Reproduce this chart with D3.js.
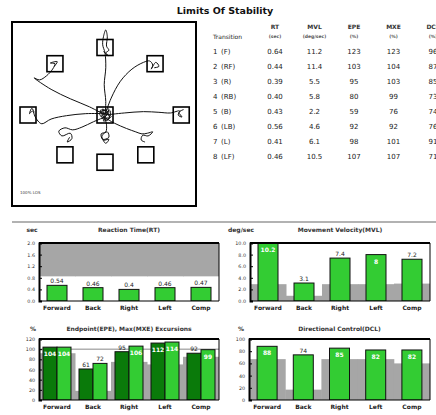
<!DOCTYPE html>
<html><head><meta charset="utf-8">
<script src="https://cdn.jsdelivr.net/npm/d3@7/dist/d3.min.js"></script>
<style>body{margin:0;background:#fff}svg{display:block}text{font-family:"DejaVu Sans",sans-serif}</style>
</head><body><svg id="c" width="436" height="415"></svg>
<script>
// ---------- data ----------
const categories = ["Forward","Back","Right","Left","Comp"];
const rtValues = [0.54,0.46,0.4,0.46,0.47];
const rtNorm = [0.85,0.85,0.85,0.85,0.85];
const rtTicks = [0,0.4,0.8,1.2,1.6,2.0];
const mvlValues = [10.2,3.1,7.4,8,7.2];
const mvlNorm = [2.9,0.9,2.9,2.9,3.0];
const mvlTicks = [0,2,4,6,8,10];
const epeValues = [104,61,95,112,92];
const mxeValues = [104,72,106,114,99];
const epeNorm = [92,18,75,70,85];
const epeTicks = [0,20,40,60,80,100,120];
const dclValues = [88,74,85,82,82];
const dclNorm = [67,17,67,67,60];
const dclTicks = [0,20,40,60,80,100];

const transitions = ["(F)","(RF)","(R)","(RB)","(B)","(LB)","(L)","(LF)"];
const tRT  = [0.64,0.44,0.39,0.40,0.43,0.56,0.41,0.46];
const tMVL = [11.2,11.4,5.5,5.8,2.2,4.6,6.1,10.5];
const tEPE = [123,103,95,80,59,92,98,107];
const tMXE = [123,104,103,99,76,92,101,107];
const tDCL = [96,87,85,73,74,76,91,71];
const tableHeads = [["RT","(sec)"],["MVL","(deg/sec)"],["EPE","(%)"],["MXE","(%)"],["DCL","(%)"]];

// targets in %LOS coordinates
const targetNames = ["C","F","RF","R","RB","B","LB","L","LF"];
const targetX = [0,0,65,99,53,0,-52,-100,-65];
const targetY = [0,100,76,0,-59,-70,-59,0,76];
// traces (%LOS)
const traceF  = [[0,0],[1,20],[-1,45],[1,70],[0,92],[-3,104],[-2,116],[1,126],[3,116],[2,102],[5,96],[1,92],[4,88],[-2,94]];
const traceRF = [[0,0],[8,25],[20,50],[35,68],[50,78],[58,80],[62,74],[60,68],[66,78],[70,72],[64,70]];
const traceR  = [[0,0],[25,3],[50,5],[70,4],[85,3],[97,6],[95,0],[100,-3],[96,4],[102,8]];
const traceRB = [[0,-4],[12,-12],[28,-20],[40,-25],[48,-28],[55,-27],[62,-25],[56,-31],[49,-30],[47,-37],[52,-40]];
const traceB  = [[0,-5],[2,-15],[1,-25],[-5,-28],[-3,-36],[5,-33],[3,-25],[-4,-31],[1,-42],[5,-36],[-2,-38]];
const traceLB = [[0,-3],[-15,-10],[-30,-18],[-42,-22],[-52,-19],[-60,-24],[-56,-31],[-45,-27],[-43,-35],[-49,-40],[-46,-33]];
const traceL  = [[0,2],[-25,2],[-50,-1],[-70,-6],[-82,-13],[-87,-9],[-91,-2],[-94,6],[-98,2],[-95,10],[-92,4]];
const traceLF = [[0,0],[-20,12],[-45,24],[-70,38],[-92,55],[-85,52],[-76,58],[-68,68],[-65,76],[-71,77],[-62,79],[-66,72]];
const traceC  = [[-4,-6],[5,4],[-6,7],[3,-8],[7,6],[-5,-2],[6,-4],[-3,9],[0,-7],[-7,2],[5,9],[-2,-9],[8,-2],[-8,5]];

// ---------- drawing ----------
const svg = d3.select("#c");

// Stability plot
svg.append("rect").attr("x",12).attr("y",22).attr("width",184).attr("height",184)
  .attr("fill","#fff").attr("stroke","#000").attr("stroke-width",2);
const sx = d3.scaleLinear().domain([-100,100]).range([28,182]);
const sy = d3.scaleLinear().domain([-100,100]).range([182.5,47.5]);
const line = d3.line().x(d=>sx(d[0])).y(d=>sy(d[1])).curve(d3.curveCatmullRom.alpha(0.5));
[traceF,traceRF,traceR,traceRB,traceB,traceLB,traceL,traceLF,traceC].forEach(t=>{
  svg.append("path").attr("d",line(t)).attr("fill","none").attr("stroke","#111").attr("stroke-width",1);
});
svg.selectAll("rect.tg").data(targetNames).join("rect").attr("class","tg")
  .attr("x",(d,i)=>sx(targetX[i])-8).attr("y",(d,i)=>sy(targetY[i])-8)
  .attr("width",16).attr("height",16).attr("fill","none").attr("stroke","#000").attr("stroke-width",1.6);
svg.append("text").attr("x",20).attr("y",194).attr("font-size",4).attr("fill","#444").text("100% LOS");

// Title + table
svg.append("text").attr("x",225).attr("y",14).attr("text-anchor","middle")
  .attr("font-family","Liberation Sans").attr("font-weight","bold").attr("font-size",9.5).attr("fill","#111")
  .text("Limits Of Stability");
const colX = d3.scalePoint().domain(d3.range(5)).range([275,433]);
const rowY = d3.scalePoint().domain(d3.range(8)).range([53.5,158.5]);
svg.append("text").attr("x",213).attr("y",39).attr("font-size",6).attr("fill","#222").text("Transition");
tableHeads.forEach((h,j)=>{
  svg.append("text").attr("x",colX(j)).attr("y",29).attr("text-anchor","middle").attr("font-size",6).attr("font-weight","bold").attr("fill","#333").text(h[0]);
  svg.append("text").attr("x",colX(j)).attr("y",38).attr("text-anchor","middle").attr("font-size",4.5).attr("font-weight","bold").attr("fill","#555").text(h[1]);
});
const tCols = [tRT.map(v=>v.toFixed(2)), tMVL.map(v=>v.toFixed(1)), tEPE.map(String), tMXE.map(String), tDCL.map(String)];
transitions.forEach((t,i)=>{
  svg.append("text").attr("x",213).attr("y",rowY(i)).attr("font-size",7).attr("fill","#222").text(i+1);
  svg.append("text").attr("x",221).attr("y",rowY(i)).attr("font-size",7).attr("fill","#222").text(t);
  tCols.forEach((c,j)=>{
    svg.append("text").attr("x",colX(j)).attr("y",rowY(i)).attr("text-anchor","middle").attr("font-size",7).attr("fill","#222").text(c[i]);
  });
});

// separator
svg.append("line").attr("x1",12).attr("x2",436).attr("y1",222).attr("y2",222).attr("stroke","#999").attr("stroke-width",1.5);

// bar panels
function panel(o){
  const g = svg.append("g");
  const x = d3.scaleBand().domain(categories).range([o.x0,o.x1]);
  const y = d3.scaleLinear().domain([0,o.max]).range([o.y1,o.y0]);
  const clipId = "clip"+o.id;
  svg.append("clipPath").attr("id",clipId).append("rect").attr("x",o.x0).attr("y",o.y0).attr("width",o.x1-o.x0).attr("height",o.y1-o.y0);
  const inner = g.append("g").attr("clip-path",`url(#${clipId})`);
  // norm shading
  inner.selectAll("rect.n").data(categories).join("rect")
    .attr("x",d=>x(d)).attr("width",x.bandwidth()+0.5)
    .attr("y",(d,i)=> o.normAbove ? y(o.max) : y(o.norm[i]))
    .attr("height",(d,i)=> o.normAbove ? y(o.norm[i])-y(o.max) : y(0)-y(o.norm[i]))
    .attr("fill","#a6a6a6");
  if(o.ref!=null){
    inner.append("line").attr("x1",o.x0).attr("x2",o.x1).attr("y1",y(o.ref)).attr("y2",y(o.ref)).attr("stroke","#888").attr("stroke-width",1);
  }
  const nS = o.series.length;
  const bw = nS===1 ? 20 : 14;
  o.series.forEach((vals,k)=>{
    const off = nS===1 ? -bw/2 : (k===0 ? -bw : 0);
    inner.selectAll("rect.b"+k).data(categories).join("rect")
      .attr("x",d=>x(d)+x.bandwidth()/2+off).attr("width",bw)
      .attr("y",(d,i)=>y(Math.min(vals[i],o.max))).attr("height",(d,i)=>y(0)-y(Math.min(vals[i],o.max)))
      .attr("fill",o.colors[k]).attr("stroke","#111").attr("stroke-width",1);
    g.selectAll("text.v"+k).data(categories).join("text")
      .attr("x",d=>x(d)+x.bandwidth()/2+off+bw/2)
      .attr("y",(d,i)=> vals[i]/o.max>=0.8 ? y(Math.min(vals[i],o.max))+9 : y(vals[i])-2)
      .attr("text-anchor","middle").attr("font-size",6).attr("font-weight",(d,i)=>vals[i]/o.max>=0.8?"bold":"normal")
      .attr("fill",(d,i)=> vals[i]/o.max>=0.8 ? "#fff" : "#222")
      .text((d,i)=>String(vals[i]));
  });
  // frame
  g.append("line").attr("x1",o.x0).attr("x2",o.x1).attr("y1",o.y0).attr("y2",o.y0).attr("stroke","#000").attr("stroke-width",2);
  g.append("line").attr("x1",o.x1).attr("x2",o.x1).attr("y1",o.y0).attr("y2",o.y1).attr("stroke","#000").attr("stroke-width",1);
  g.append("line").attr("x1",o.x0).attr("x2",o.x1).attr("y1",o.y1).attr("y2",o.y1).attr("stroke","#000").attr("stroke-width",1.2);
  const ax = g.append("g").attr("transform",`translate(${o.x0},0)`)
    .call(d3.axisLeft(y).tickValues(o.ticks).tickSize(-3).tickPadding(4).tickFormat(o.fmt));
  ax.select(".domain").attr("stroke","#000").attr("stroke-width",2);
  ax.selectAll("text").attr("font-size",4.8).attr("fill","#333").attr("font-family","DejaVu Sans");
  const bx = g.append("g").attr("transform",`translate(0,${o.y1})`).call(d3.axisBottom(x).tickSize(0).tickPadding(5));
  bx.select(".domain").remove();
  bx.selectAll("text").attr("font-size",6).attr("fill","#222").attr("font-family","DejaVu Sans").attr("font-weight","bold");
  svg.append("text").attr("x",o.lx).attr("y",o.ty).attr("text-anchor","middle").attr("font-size",6).attr("font-weight","bold").attr("fill","#333").text(o.ylabel);
  svg.append("text").attr("x",(o.x0+o.x1)/2).attr("y",o.ty).attr("text-anchor","middle").attr("font-size",6).attr("font-weight","bold").attr("fill","#333").text(o.title);
}
const lightG = "#33cc33", darkG = "#0a7a0a";
panel({id:1,x0:39,x1:219,y0:243,y1:301,max:2,ticks:rtTicks,fmt:d3.format(".1f"),series:[rtValues],colors:[lightG],norm:rtNorm,normAbove:true,title:"Reaction Time(RT)",ylabel:"sec",lx:32,ty:232});
panel({id:2,x0:250,x1:430,y0:243,y1:301,max:10,ticks:mvlTicks,fmt:d3.format(".1f"),series:[mvlValues],colors:[lightG],norm:mvlNorm,title:"Movement Velocity(MVL)",ylabel:"deg/sec",lx:241,ty:232});
panel({id:3,x0:39,x1:219,y0:339,y1:400,max:120,ticks:epeTicks,fmt:d3.format("d"),series:[epeValues,mxeValues],colors:[darkG,lightG],norm:epeNorm,ref:100,title:"Endpoint(EPE), Max(MXE) Excursions",ylabel:"%",lx:33,ty:331});
panel({id:4,x0:249,x1:430,y0:339,y1:400,max:100,ticks:dclTicks,fmt:d3.format("d"),series:[dclValues],colors:[lightG],norm:dclNorm,title:"Directional Control(DCL)",ylabel:"%",lx:241,ty:331});
</script></body></html>
